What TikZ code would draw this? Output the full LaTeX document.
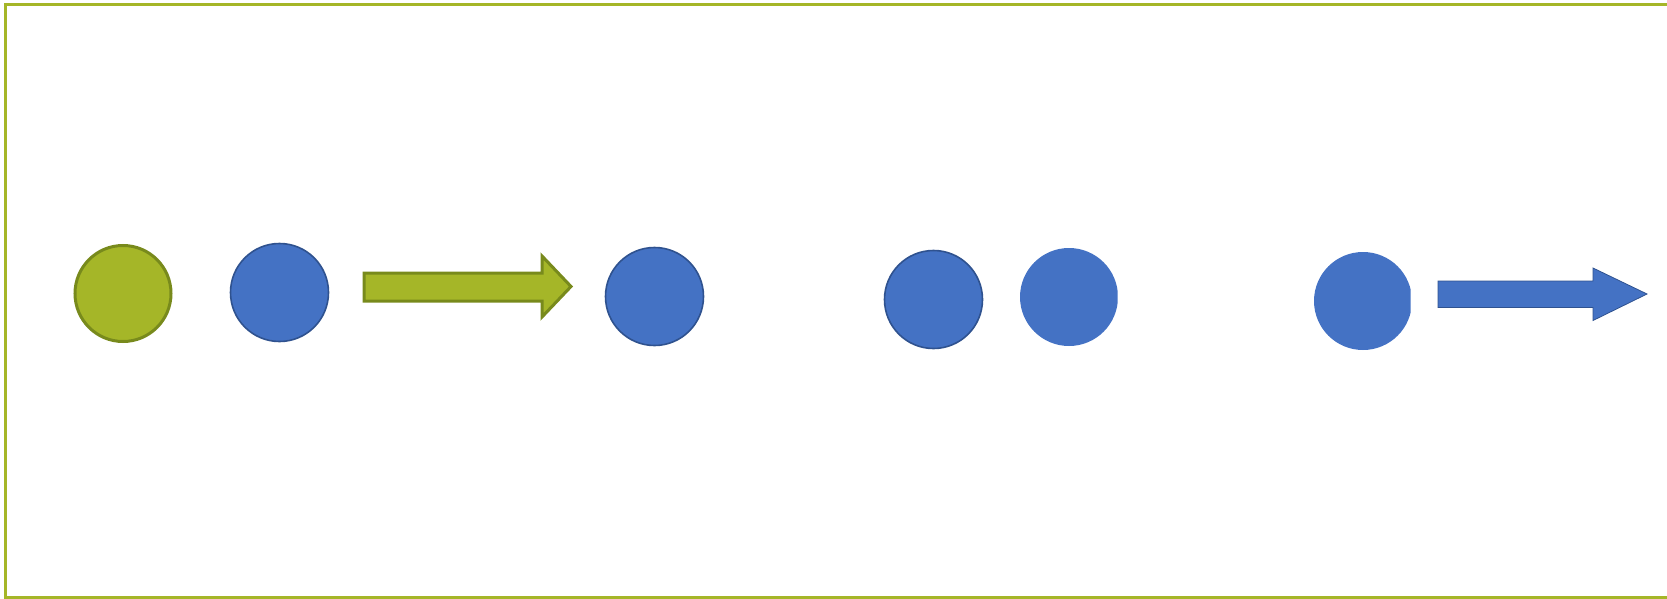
\documentclass[tikz,border=0pt]{standalone}
\definecolor{olivefill}{HTML}{A5B628}
\definecolor{olivedark}{HTML}{788A1C}
\definecolor{bluefill}{HTML}{4472C4}
\definecolor{bluedark}{HTML}{2F528F}
\begin{document}
\begin{tikzpicture}[x=1pt,y=-1pt,
  frameline/.style={draw=olivefill, line width=3.2pt},
  greendot/.style={circle, minimum size=96pt, inner sep=0pt, fill=olivefill, draw=olivedark, line width=3pt},
  bluedot/.style={circle, minimum size=98pt, inner sep=0pt, fill=bluefill, draw=bluedark, line width=1.6pt},
  plaindot/.style={circle, minimum size=98pt, inner sep=0pt, fill=bluefill, draw=none},
  greenarrow/.style={fill=olivefill, draw=olivedark, line width=3pt, line join=miter},
  bluearrow/.style={fill=bluefill, draw=bluedark, line width=0.8pt, line join=miter}]
\useasboundingbox (0,0) rectangle (1667,599);
% frame (open on the right)
\draw[frameline] (1667,4.5) -- (5.6,4.5) -- (5.6,597.4) -- (1667,597.4);
% circles
\node[greendot] (g1) at (123,293.5) {};
\node[bluedot] (b1) at (279.5,292.5) {};
\node[bluedot] (b2) at (654.5,296.5) {};
\node[bluedot] (b3) at (933.5,299.5) {};
\begin{scope}
  \clip (1000,230) rectangle (1117.5,370);
  \node[plaindot] (b4) at (1069,297) {};
\end{scope}
\begin{scope}
  \clip (1300,230) rectangle (1410.5,370);
  \node[plaindot] (b5) at (1363,301) {};
\end{scope}
% block arrows
\draw[greenarrow] (364,273) -- (542,273) -- (542,256) -- (571,286.5) -- (542,317) -- (542,301) -- (364,301) -- cycle;
\draw[bluearrow] (1438,281) -- (1593,281) -- (1593,268) -- (1647,294) -- (1593,320.5) -- (1593,307.5) -- (1438,307.5) -- cycle;
\end{tikzpicture}
\end{document}
